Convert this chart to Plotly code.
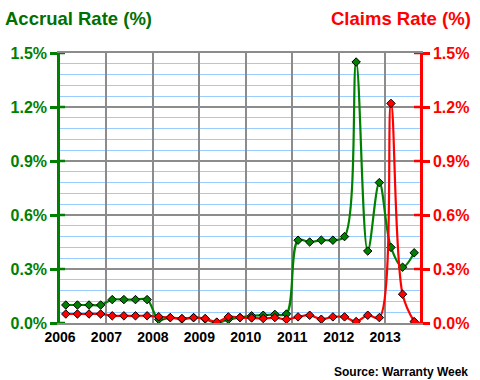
import plotly.graph_objects as go

# Quarterly data points (mid-quarter positions)
years = list(range(2006, 2014))
quarters = [y + (q + 0.5) / 4 for y in years for q in range(4)][:31]

accrual_rate = [0.10, 0.10, 0.10, 0.10,
                0.13, 0.13, 0.13, 0.13,
                0.02, 0.03, 0.022, 0.03,
                0.022, 0.00, 0.02, 0.03,
                0.04, 0.043, 0.048, 0.05,
                0.46, 0.45, 0.46, 0.46,
                0.48, 1.45, 0.40, 0.78,
                0.42, 0.31, 0.39]

claims_rate = [0.05, 0.05, 0.05, 0.05,
               0.04, 0.04, 0.04, 0.04,
               0.035, 0.03, 0.025, 0.03,
               0.025, 0.005, 0.034, 0.03,
               0.028, 0.025, 0.03, 0.02,
               0.034, 0.043, 0.021, 0.034,
               0.034, 0.008, 0.043, 0.03,
               1.22, 0.16, 0.008]

y_ticks = [0.0, 0.3, 0.6, 0.9, 1.2, 1.5]
y_tick_labels = ["0.0%", "0.3%", "0.6%", "0.9%", "1.2%", "1.5%"]
x_ticks = years
x_tick_labels = [str(y) for y in years]

GREEN = "#008000"
RED = "#FF0000"
FONT = "Liberation Sans, Arial, sans-serif"

fig = go.Figure()
fig.add_trace(go.Scatter(
    x=quarters, y=accrual_rate, mode="lines+markers",
    line=dict(color=GREEN, width=2.2, shape="spline", smoothing=1),
    marker=dict(symbol="diamond", size=6.5, color=GREEN, line=dict(color="black", width=1)),
    yaxis="y", showlegend=False, cliponaxis=True))
fig.add_trace(go.Scatter(
    x=quarters, y=claims_rate, mode="lines+markers",
    line=dict(color=RED, width=2.2, shape="spline", smoothing=1),
    marker=dict(symbol="diamond", size=6.5, color=RED, line=dict(color="black", width=1)),
    yaxis="y2", showlegend=False, cliponaxis=True))

fig.update_layout(
    width=480, height=380,
    margin=dict(l=60, r=60, t=53, b=57, autoexpand=False),
    paper_bgcolor="white", plot_bgcolor="white",
    font=dict(family=FONT, size=14, color="black"),
    xaxis=dict(range=[2006, 2013.75], tickvals=x_ticks, ticktext=x_tick_labels,
               showgrid=True, gridcolor="#8c8c8c", gridwidth=1.5,
               showline=True, linecolor="#8c8c8c", linewidth=1.5, mirror=True,
               zeroline=False, ticks="",
               tickfont=dict(family=FONT, size=14, color="black", weight="bold")),
    yaxis=dict(range=[0, 1.5], tickvals=y_ticks, ticktext=y_tick_labels,
               showgrid=True, gridcolor="#8c8c8c", gridwidth=1.5, zeroline=False,
               showline=True, linecolor=GREEN, linewidth=2.5,
               ticks="outside", ticklen=7, tickwidth=2.5, tickcolor=GREEN,
               tickfont=dict(family=FONT, size=16, color=GREEN, weight="bold"),
               minor=dict(dtick=0.06, tick0=0, showgrid=True, gridcolor="#99ccff", gridwidth=1, ticks="")),
    yaxis2=dict(range=[0, 1.5], tickvals=y_ticks, ticktext=y_tick_labels,
                overlaying="y", side="right", showgrid=False, zeroline=False,
                showline=True, linecolor=RED, linewidth=2.5,
                ticks="outside", ticklen=7, tickwidth=2.5, tickcolor=RED,
                tickfont=dict(family=FONT, size=16, color=RED, weight="bold")),
    annotations=[
        dict(text="Accrual Rate (%)", xref="paper", yref="paper", x=-57/360, y=1, yshift=47,
             xanchor="left", yanchor="top", showarrow=False,
             font=dict(family=FONT, size=18.5, color="#007000", weight="bold")),
        dict(text="Claims Rate (%)", xref="paper", yref="paper", x=1 + 53/360, y=1, yshift=47,
             xanchor="right", yanchor="top", showarrow=False,
             font=dict(family=FONT, size=18.5, color=RED, weight="bold")),
        dict(text="Source: Warranty Week", xref="paper", yref="paper", x=1 + 50/360, y=0, yshift=-40,
             xanchor="right", yanchor="top", showarrow=False,
             font=dict(family=FONT, size=12, color="black", weight="bold")),
    ],
)

# inner half of the crossing tick marks
shapes = []
for v in y_ticks:
    shapes.append(dict(type="line", xref="x", yref="y", xsizemode="pixel", xanchor=2006,
                       x0=0, x1=5, y0=v, y1=v, line=dict(color=GREEN, width=2.5), layer="above"))
    shapes.append(dict(type="line", xref="x", yref="y", xsizemode="pixel", xanchor=2013.75,
                       x0=-6, x1=0, y0=v, y1=v, line=dict(color=RED, width=2.5), layer="above"))
fig.update_layout(shapes=shapes)

fig.write_html("out.html", config={"displayModeBar": False},
               post_script="document.body.style.margin='0px';document.body.style.overflow='hidden';")
